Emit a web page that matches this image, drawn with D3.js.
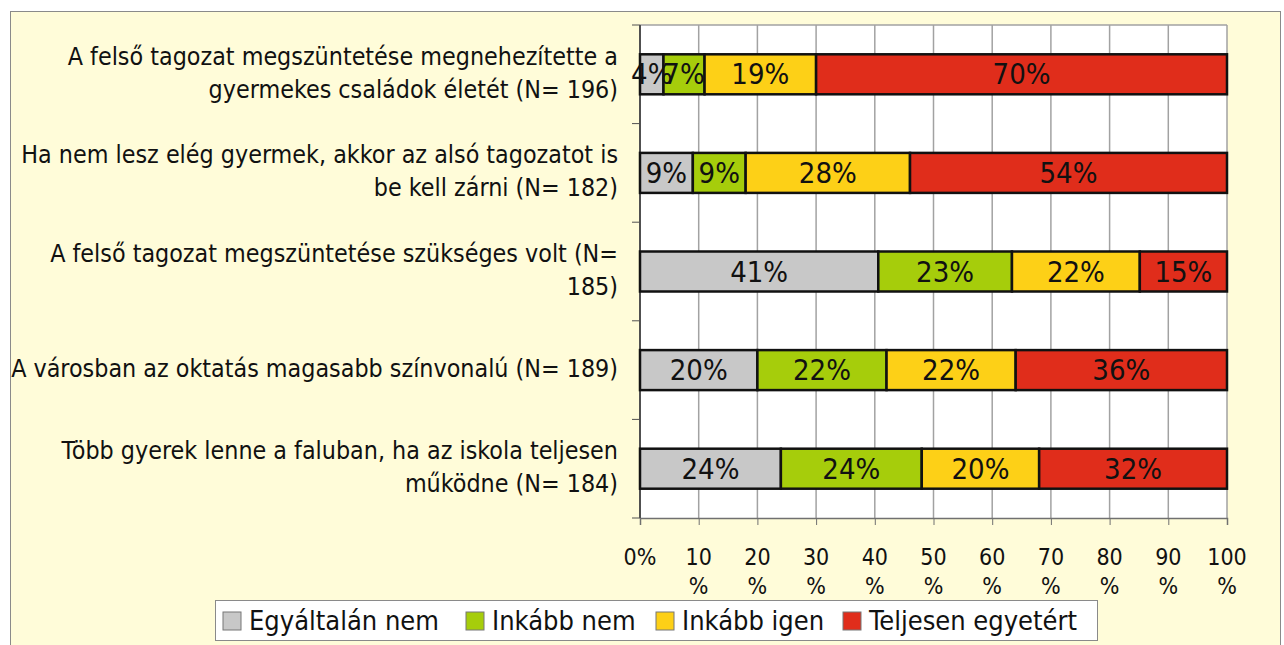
<!DOCTYPE html>
<html>
<head>
<meta charset="utf-8">
<script src="https://cdn.jsdelivr.net/npm/d3@7"></script>
<style>
  body { margin: 0; background: #fff; }
  svg text { font-family: "DejaVu Sans", sans-serif; font-stretch: condensed; fill: #111; }
</style>
</head>
<body>
<div class="container"></div>
<script>
const w = 1284;
const h = 645;

// data
const categories = [
  ["A felső tagozat megszüntetése megnehezítette a", "gyermekes családok életét (N= 196)"],
  ["Ha nem lesz elég gyermek, akkor az alsó tagozatot is", "be kell zárni (N= 182)"],
  ["A felső tagozat megszüntetése szükséges volt (N=", "185)"],
  ["A városban az oktatás magasabb színvonalú (N= 189)"],
  ["Több gyerek lenne a faluban, ha az iskola teljesen", "működne (N= 184)"]
];
const seriesNames = ["Egyáltalán nem", "Inkább nem", "Inkább igen", "Teljesen egyetért"];
const egyaltalanNem = [4, 9, 41, 20, 24];
const inkabbNem = [7, 9, 23, 22, 24];
const inkabbIgen = [19, 28, 22, 22, 20];
const teljesen = [70, 54, 15, 36, 32];
const tickValues = [0, 10, 20, 30, 40, 50, 60, 70, 80, 90, 100];

const colors = ["#c8c8c8", "#a6cd0b", "#fdd017", "#e02d1b"];

const plot = { left: 640, right: 1227, top: 25, bottom: 518 };

const svg = d3.select('.container').append('svg')
    .attr('width', w)
    .attr('height', h);

// background frame
svg.append('rect')
    .attr('x', 10.5).attr('y', 11.5)
    .attr('width', 1270).attr('height', 650)
    .attr('fill', '#fffcd9')
    .attr('stroke', '#8a8a8a');

svg.append('rect')
    .attr('x', plot.left).attr('y', plot.top)
    .attr('width', plot.right - plot.left).attr('height', plot.bottom - plot.top)
    .attr('fill', '#fff');

const keys = categories.map((c, i) => i);
const rows = keys.map(i => {
  const vals = [egyaltalanNem[i], inkabbNem[i], inkabbIgen[i], teljesen[i]];
  return { i, vals, total: d3.sum(vals) };
});

const x = d3.scaleLinear().domain([0, 100]).range([plot.left, plot.right]);
const y = d3.scaleBand().domain(keys).range([plot.top, plot.bottom]);

// grid
svg.append('g').selectAll('line')
    .data(tickValues)
    .join('line')
    .attr('x1', d => x(d)).attr('x2', d => x(d))
    .attr('y1', plot.top).attr('y2', plot.bottom)
    .attr('stroke', '#a2a2a2')
    .attr('stroke-width', 1.5);

svg.append('line')
    .attr('x1', plot.left).attr('x2', plot.right)
    .attr('y1', plot.top).attr('y2', plot.top)
    .attr('stroke', '#a2a2a2').attr('stroke-width', 1.5);

// x axis
const xAxis = svg.append('g')
    .attr('transform', `translate(0, ${plot.bottom})`)
    .call(d3.axisBottom(x).tickValues(tickValues).tickSize(7).tickFormat(''));
xAxis.select('.domain').attr('stroke', '#707070').attr('stroke-width', 1.5);
xAxis.selectAll('.tick line').attr('stroke', '#707070');

const xl = svg.append('g').selectAll('text')
    .data(tickValues)
    .join('text')
    .attr('x', d => x(d))
    .attr('y', 565)
    .attr('text-anchor', 'middle')
    .style('font-size', '23px');
xl.append('tspan').attr('x', d => x(d)).text(d => d === 0 ? '0%' : d);
xl.filter(d => d !== 0).append('tspan').attr('x', d => x(d)).attr('dy', 29).text('%');

// y axis
const yAxis = svg.append('g')
    .attr('transform', `translate(${plot.left}, 0)`);
yAxis.append('line')
    .attr('y1', plot.top).attr('y2', plot.bottom)
    .attr('stroke', '#505050').attr('stroke-width', 2);
yAxis.selectAll('.yt')
    .data(d3.range(keys.length + 1))
    .join('line')
    .attr('class', 'yt')
    .attr('x1', -8).attr('x2', 0)
    .attr('y1', d => plot.top + d * y.step())
    .attr('y2', d => plot.top + d * y.step())
    .attr('stroke', '#505050');

// category labels
const lineH = 33;
const cl = svg.append('g').selectAll('text')
    .data(categories)
    .join('text')
    .attr('text-anchor', 'end')
    .style('font-size', '24.8px')
    .attr('y', (d, i) => y(i) + y.bandwidth() / 2 - (d.length - 1) * lineH / 2 + 7);
cl.selectAll('tspan')
    .data(d => d)
    .join('tspan')
    .attr('x', 618)
    .attr('dy', (d, j) => j === 0 ? 0 : lineH)
    .text(d => d);

// bars
const barH = 40;
rows.forEach(r => {
  let acc = 0;
  const segs = r.vals.map((v, k) => {
    const s = { k, v, x0: acc / r.total * 100, x1: (acc + v) / r.total * 100 };
    acc += v;
    return s;
  });
  const g = svg.append('g')
      .attr('transform', `translate(0, ${y(r.i) + y.bandwidth() / 2 - barH / 2})`);
  g.selectAll('rect')
      .data(segs)
      .join('rect')
      .attr('x', d => x(d.x0))
      .attr('width', d => x(d.x1) - x(d.x0))
      .attr('height', barH)
      .attr('fill', d => colors[d.k])
      .attr('stroke', '#111')
      .attr('stroke-width', 2.5);
  g.selectAll('text')
      .data(segs)
      .join('text')
      .attr('x', d => (x(d.x0) + x(d.x1)) / 2)
      .attr('y', barH / 2 + 10)
      .attr('text-anchor', 'middle')
      .style('font-size', '29px')
      .text(d => d.v + '%');
});

// legend
const legend = svg.append('g');
legend.append('rect')
    .attr('x', 215.5).attr('y', 600.5)
    .attr('width', 882).attr('height', 40)
    .attr('fill', '#fff')
    .attr('stroke', '#8a8a8a');
const legendX = [223, 466, 656, 843];
const items = legend.selectAll('.item')
    .data(seriesNames)
    .join('g')
    .attr('class', 'item')
    .attr('transform', (d, i) => `translate(${legendX[i]}, 612)`);
items.append('rect')
    .attr('width', 18).attr('height', 18)
    .attr('fill', (d, i) => colors[i])
    .attr('stroke', '#777');
items.append('text')
    .attr('x', 26).attr('y', 18)
    .style('font-size', '27px')
    .text(d => d);
</script>
</body>
</html>
